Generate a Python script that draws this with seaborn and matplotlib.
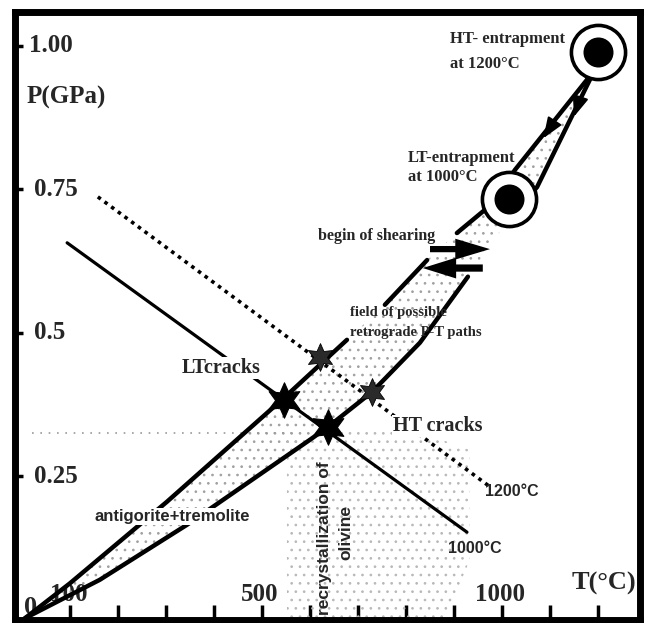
import matplotlib
matplotlib.use("Agg")
import matplotlib.pyplot as plt
import seaborn as sns

# P-T path field, T in °C, P in GPa
upper_a_T = [6, 100, 302, 546, 677]
upper_a_P = [0.003, 0.064, 0.206, 0.387, 0.488]
upper_b_T = [756, 844]
upper_b_P = [0.549, 0.627]
upper_c_T = [906, 981, 1027, 1177, 1200]
upper_c_P = [0.674, 0.726, 0.784, 0.941, 0.990]
lower_a_T = [6, 162, 344, 600, 637, 729, 829, 929]
lower_a_P = [0.003, 0.070, 0.166, 0.314, 0.336, 0.397, 0.483, 0.598]
lower_b_T = [1017, 1073, 1183, 1200]
lower_b_P = [0.702, 0.754, 0.941, 0.990]

# isotherms
iso1000_T = [94, 927]
iso1000_P = [0.657, 0.153]
iso1200_T = [158, 975]
iso1200_P = [0.737, 0.232]

# entrapment points and cracks
entrap_T = [1200, 1015]
entrap_P = [0.990, 0.733]
lt_cracks_T = [546, 637]
lt_cracks_P = [0.383, 0.336]
ht_cracks_T = [621, 729]
ht_cracks_P = [0.458, 0.397]

# recrystallization field outline and stipple band
recr_T = [552, 552, 642, 829, 933, 933, 881]
recr_P = [0.0, 0.314, 0.328, 0.328, 0.296, 0.105, 0.0]
band_T = [20, 560]
band_P = [0.325, 0.325]

x_ticks = [100, 200, 300, 400, 500, 600, 700, 800, 900, 1000, 1100, 1200]
x_labels = ["100", "500", "1000"]
x_label_T = [98, 496, 996]
y_ticks = [0.25, 0.5, 0.75, 1.00]
y_labels = ["0.25", "0.5", "0.75", "1.00"]

sns.set_style("white")
serif = "Liberation Serif"
sans = "Liberation Sans"
plt.rcParams["hatch.linewidth"] = 0.7

fig = plt.figure(figsize=(6.46, 6.23), dpi=100)
ax = fig.add_axes([15 / 646, 3 / 623, 625 / 646, 608 / 623])
ax.set_xlim(-14.6, 1287.5)
ax.set_ylim(0, 1.059)

# stippled areas
field_T = upper_a_T + upper_b_T + upper_c_T + lower_b_T[::-1] + lower_a_T[::-1]
field_P = upper_a_P + upper_b_P + upper_c_P + lower_b_P[::-1] + lower_a_P[::-1]
ax.fill(field_T, field_P, facecolor="none", edgecolor="#a0a0a0", hatch="..",
        linewidth=0, zorder=1)
ax.fill(recr_T, recr_P, facecolor="none", edgecolor="#b8b8b8", hatch="..",
        linewidth=0, zorder=1)
ax.plot(band_T, band_P, color="#999999", lw=1.2, ls=(0, (1, 4)), zorder=1)

# field boundaries
for tt, pp in [(upper_a_T, upper_a_P), (upper_b_T, upper_b_P), (upper_c_T, upper_c_P),
               (lower_a_T, lower_a_P), (lower_b_T, lower_b_P)]:
    sns.lineplot(x=tt, y=pp, sort=False, color="black", lw=3.2, ax=ax, zorder=3)

sns.lineplot(x=iso1000_T, y=iso1000_P, sort=False, color="black", lw=2.3, ax=ax, zorder=2)
ax.plot(iso1200_T, iso1200_P, color="black", lw=2.6, ls=(0, (1, 1.3)), zorder=2)

# cracks
sns.scatterplot(x=ht_cracks_T, y=ht_cracks_P, marker=(6, 1, 0), s=400,
                color="#2a2a2a", edgecolor="black", linewidth=0.6, ax=ax, zorder=5)
sns.scatterplot(x=lt_cracks_T, y=lt_cracks_P, marker=(6, 1, 0), s=650,
                color="black", edgecolor="black", linewidth=0.8, ax=ax, zorder=5)

# entrapment circles
sns.scatterplot(x=entrap_T, y=entrap_P, s=1520, color="white", edgecolor="black",
                linewidth=2.6, ax=ax, zorder=6)
sns.scatterplot(x=entrap_T, y=entrap_P, s=467, color="black", edgecolor="black",
                linewidth=0, ax=ax, zorder=7)

# direction arrows on the path
head = dict(arrowstyle="-|>,head_length=0.9,head_width=0.35",
            color="black", lw=1.5, mutation_scale=14)
ax.annotate("", xy=(1083, 0.835), xytext=(1104, 0.862), arrowprops=head, zorder=6)
ax.annotate("", xy=(1148, 0.872), xytext=(1160, 0.902), arrowprops=head, zorder=6)

# shearing arrows
ax.annotate("", xy=(975, 0.646), xytext=(850, 0.646),
            arrowprops=dict(width=4.5, headwidth=15, headlength=25, shrink=0,
                            facecolor="black", edgecolor="none"), zorder=6)
ax.annotate("", xy=(835, 0.613), xytext=(960, 0.613),
            arrowprops=dict(width=5.2, headwidth=15, headlength=24, shrink=0,
                            facecolor="black", edgecolor="none"), zorder=6)

# labels
wb = dict(facecolor="white", edgecolor="none", pad=1)
ax.text(892, 1.012, "HT- entrapment", family=serif, weight="bold", fontsize=12,
        ha="left", va="center", zorder=8)
ax.text(892, 0.968, "at 1200°C", family=serif, weight="bold", fontsize=12,
        ha="left", va="center", zorder=8)
ax.text(804, 0.805, "LT-entrapment", family=serif, weight="bold", fontsize=12,
        ha="left", va="center", zorder=8)
ax.text(804, 0.771, "at 1000°C", family=serif, weight="bold", fontsize=12,
        ha="left", va="center", zorder=8)
ax.text(617, 0.668, "begin of shearing", family=serif, weight="bold", fontsize=11.5,
        ha="left", va="center", zorder=8)
ax.text(683, 0.535, "field of possible", family=serif, weight="bold", fontsize=10.5,
        ha="left", va="center", zorder=8)
ax.text(683, 0.500, "retrograde P-T paths", family=serif, weight="bold", fontsize=10.5,
        ha="left", va="center", zorder=8)
ax.text(415, 0.439, "LTcracks", family=serif, weight="bold", fontsize=14.5,
        ha="center", va="center", bbox=wb, zorder=8)
ax.text(867, 0.338, "HT cracks", family=serif, weight="bold", fontsize=14.5,
        ha="center", va="center", bbox=wb, zorder=8)
ax.text(312, 0.180, "antigorite+tremolite", family=sans, weight="bold", fontsize=12,
        ha="center", va="center", bbox=wb, zorder=8)
ax.text(887, 0.124, "1000°C", family=sans, weight="bold", fontsize=11.5,
        ha="left", va="center", zorder=8)
ax.text(965, 0.223, "1200°C", family=sans, weight="bold", fontsize=11.5,
        ha="left", va="center", zorder=8)
ax.text(631, 0.143, "recrystallization of", family=sans, weight="bold", fontsize=12.5,
        ha="center", va="center", rotation=90, zorder=8)
ax.text(675, 0.153, "olivine", family=sans, weight="bold", fontsize=12.5,
        ha="center", va="center", rotation=90, zorder=8)

# axis labels and tick labels drawn inside the frame
ax.text(10, 0.911, "P(GPa)", family=serif, weight="bold", fontsize=18,
        ha="left", va="center", zorder=8)
ax.text(1212, 0.063, "T(°C)", family=serif, weight="bold", fontsize=19,
        ha="center", va="center", zorder=8)
ax.text(17, 0.022, "0", family=serif, weight="bold", fontsize=19,
        ha="center", va="center", zorder=0)
for lab, t in zip(x_labels, x_label_T):
    ax.text(t, 0.045, lab, family=serif, weight="bold", fontsize=18,
            ha="center", va="center", zorder=0)
for lab, p in zip(y_labels, y_ticks):
    ax.text(14 if lab == "1.00" else 26, p, lab, family=serif, weight="bold",
            fontsize=18, ha="left", va="center", zorder=8)

ax.set_xticks(x_ticks)
ax.set_yticks(y_ticks)
ax.tick_params(axis="x", direction="in", length=11, width=2.5, bottom=True,
               labelbottom=False, color="black")
ax.tick_params(axis="y", direction="in", length=6, width=2.5, left=True,
               labelleft=False, color="black")
for sp in ax.spines.values():
    sp.set_linewidth(5)
    sp.set_color("black")
ax.set_xlabel("")
ax.set_ylabel("")

fig.savefig("out.png", dpi=100, facecolor="white")
